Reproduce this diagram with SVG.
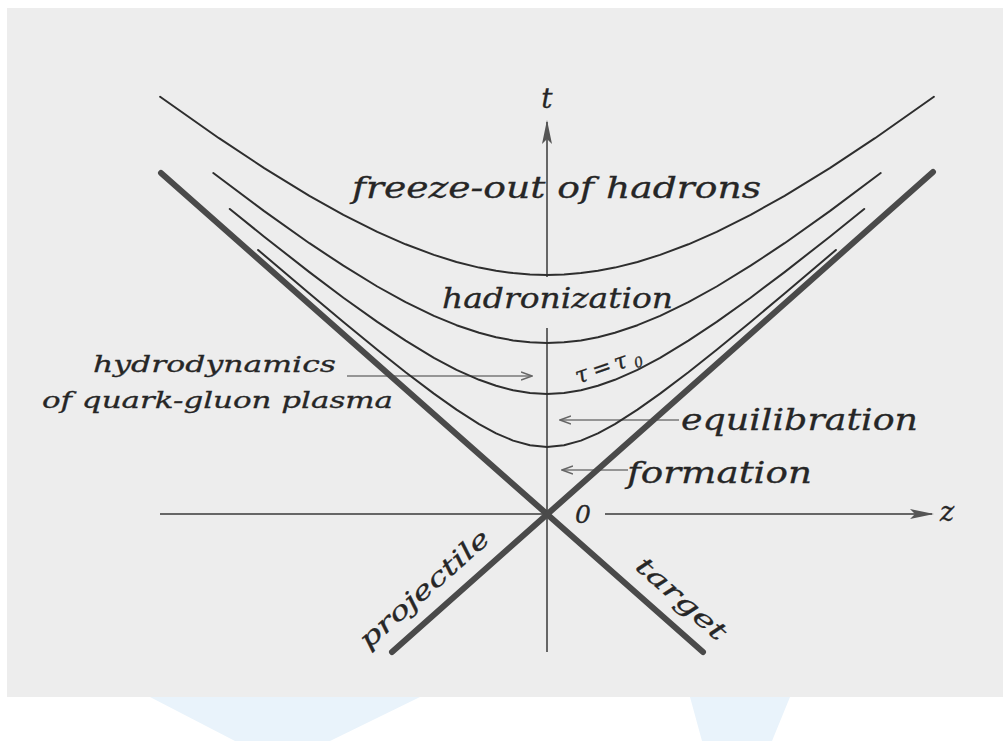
<svg xmlns="http://www.w3.org/2000/svg" width="1003" height="741" viewBox="0 0 1003 741">
  <style>
    .thin { fill: none; stroke: #2e2e2e; stroke-width: 2; stroke-linejoin: round; stroke-linecap: round; }
    .thick { fill: none; stroke: #4a4a4a; stroke-width: 6; stroke-linecap: round; }
    .axis { fill: none; stroke: #666; stroke-width: 2; }
    .pointer { fill: none; stroke: #777; stroke-width: 1.6; }
    text { font-family: "DejaVu Serif", "Liberation Serif", serif; font-style: italic; fill: #262626; stroke: #262626; stroke-width: 0.3; }
  </style>
  <defs>
    <marker id="axisHead" viewBox="0 0 24 12" refX="22" refY="6" markerWidth="24" markerHeight="12" orient="auto" markerUnits="userSpaceOnUse">
      <path d="M0,1 L24,6 L0,11 L5,6 z" fill="#555"/>
    </marker>
    <marker id="openHead" viewBox="0 0 12 10" refX="11" refY="5" markerWidth="12" markerHeight="10" orient="auto" markerUnits="userSpaceOnUse">
      <path d="M0,1 L11,5 L0,9" fill="none" stroke="#666" stroke-width="1.5"/>
    </marker>
  </defs>

  <rect x="0" y="0" width="1003" height="741" fill="#ffffff"/>
  <rect x="7" y="8" width="996" height="689" fill="#ededed"/>
  <g id="watermark" fill="#e9f3fb">
    <polygon points="150,697 420,697 330,741 235,741"/>
    <polygon points="690,697 790,697 772,741 702,741"/>
  </g>

  <g id="connectors">
    <path id="t-axis-upper" class="axis" d="M547,277 L547,122" marker-end="url(#axisHead)"/>
    <path id="t-axis-lower" class="axis" d="M547,328 L547,652"/>
    <path id="z-axis-left" class="axis" d="M160,514 L548,514"/>
    <path id="z-axis-right" class="axis" d="M605,514 L932,514" marker-end="url(#axisHead)"/>
    <path id="ptr-hydro" class="pointer" d="M347,376 L532,376" marker-end="url(#openHead)"/>
    <path id="ptr-equil" class="pointer" d="M679,420 L560,420" marker-end="url(#openHead)"/>
    <path id="ptr-form" class="pointer" d="M628,470 L562,470" marker-end="url(#openHead)"/>
  </g>

  <g id="hyperbolas">
    <path id="freeze-out-curve" class="thin" d="M160.1,96.8 L219,138.2 264.2,168.1 309.4,195.8 343.4,214.8 377.3,231.8 405.6,244.3 433.9,254.9 456.5,262 479.1,267.6 496.1,270.8 513.1,273.1 530,274.5 547,275 564,274.5 580.9,273.1 597.9,270.8 614.9,267.6 637.5,262 660.1,254.9 688.4,244.3 716.7,231.8 750.6,214.8 784.6,195.8 829.8,168.1 875,138.2 933.9,96.8"/>
    <path id="hadronization-curve" class="thin" d="M213.3,173 L264.2,211.1 309.4,243.2 343.4,265.7 377.3,286.5 405.6,302.2 433.9,315.9 456.5,325.2 479.1,332.8 496.1,337.2 513.1,340.4 530,342.3 547,343 564,342.3 580.9,340.4 597.9,337.2 614.9,332.8 637.5,325.2 660.1,315.9 688.4,302.2 716.7,286.5 750.6,265.7 784.6,243.2 829.8,211.1 880.7,173"/>
    <path id="tau0-curve" class="thin" d="M229.8,209 L264.2,236.7 309.4,272.1 343.4,297.7 377.3,321.9 405.6,340.7 433.9,357.8 456.5,369.8 479.1,379.8 496.1,385.8 513.1,390.3 530,393.1 547,394 564,393.1 580.9,390.3 597.9,385.8 614.9,379.8 637.5,369.8 660.1,357.8 688.4,340.7 716.7,321.9 750.6,297.7 784.6,272.1 829.8,236.7 864.2,209"/>
    <path id="equilibration-curve" class="thin" d="M258.1,250 L309.4,293.6 343.4,321.9 377.3,349.7 405.6,372.2 433.9,393.6 456.5,409.6 479.1,424.1 496.1,433.3 513.1,440.6 530,445.3 547,447 564,445.3 580.9,440.6 597.9,433.3 614.9,424.1 637.5,409.6 660.1,393.6 688.4,372.2 716.7,349.7 750.6,321.9 784.6,293.6 835.9,250"/>
  </g>

  <g id="target">
    <path class="thick" d="M161,173 L703,652"/>
    <text x="0" y="0" font-size="25" textLength="112" lengthAdjust="spacingAndGlyphs" transform="translate(634,568) rotate(41.5)">target</text>
  </g>
  <g id="projectile">
    <path class="thick" d="M933,172 L392,652"/>
    <text x="0" y="0" font-size="25" textLength="165" lengthAdjust="spacingAndGlyphs" transform="translate(368,650) rotate(-41.5)">projectile</text>
  </g>

  <g id="axis-labels">
    <text x="547" y="108" font-size="28" text-anchor="middle">t</text>
    <text x="583" y="523" font-size="25" text-anchor="middle">0</text>
    <text x="947" y="521" font-size="27" text-anchor="middle">z</text>
  </g>

  <g id="freeze-out">
    <text x="352" y="198" font-size="29" textLength="409" lengthAdjust="spacingAndGlyphs">freeze-out of hadrons</text>
  </g>
  <g id="hadronization">
    <text x="442" y="308" font-size="27" textLength="231" lengthAdjust="spacingAndGlyphs">hadronization</text>
  </g>
  <g id="tau0">
    <text transform="translate(578,384) rotate(-19)" font-size="23"><tspan x="0" y="0">τ</tspan><tspan x="18" y="0">=</tspan><tspan x="41" y="0">τ</tspan><tspan x="60" y="4" font-size="14">0</tspan></text>
  </g>
  <g id="hydrodynamics">
    <text x="93" y="372" font-size="23" textLength="243" lengthAdjust="spacingAndGlyphs">hydrodynamics</text>
    <text x="42" y="408" font-size="23" textLength="351" lengthAdjust="spacingAndGlyphs">of quark-gluon plasma</text>
  </g>
  <g id="equilibration">
    <text x="681" y="430" font-size="29" textLength="237" lengthAdjust="spacingAndGlyphs">equilibration</text>
  </g>
  <g id="formation">
    <text x="627" y="483" font-size="29" textLength="185" lengthAdjust="spacingAndGlyphs">formation</text>
  </g>
</svg>
